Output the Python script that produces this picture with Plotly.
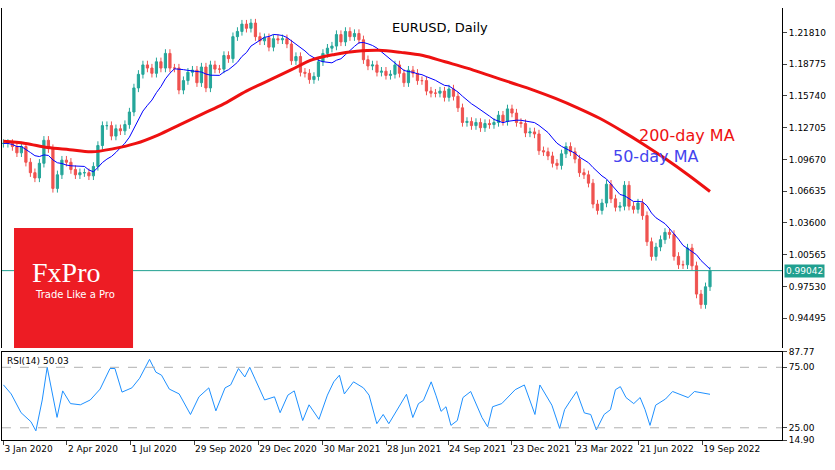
import plotly.graph_objects as go
import pandas as pd
import numpy as np

closes = [1.112,1.112,1.109,1.103,1.109,1.094,1.084,1.079,1.093,1.115,1.107,1.069,1.082,1.096,1.094,1.087,1.082,1.084,1.084,1.081,1.090,1.110,1.129,1.129,1.119,1.126,1.124,1.130,1.142,1.165,1.178,1.187,1.184,1.179,1.190,1.184,1.198,1.184,1.184,1.163,1.172,1.180,1.182,1.170,1.185,1.165,1.187,1.183,1.183,1.196,1.193,1.214,1.219,1.226,1.222,1.227,1.214,1.210,1.213,1.204,1.212,1.211,1.212,1.207,1.191,1.195,1.180,1.179,1.173,1.176,1.190,1.198,1.203,1.205,1.216,1.209,1.219,1.214,1.217,1.211,1.192,1.186,1.187,1.180,1.181,1.177,1.178,1.187,1.179,1.170,1.182,1.179,1.172,1.172,1.162,1.160,1.160,1.162,1.156,1.164,1.157,1.146,1.132,1.133,1.129,1.132,1.127,1.131,1.130,1.132,1.139,1.133,1.145,1.141,1.132,1.131,1.122,1.123,1.121,1.105,1.104,1.100,1.093,1.091,1.102,1.109,1.104,1.097,1.084,1.082,1.074,1.054,1.048,1.055,1.073,1.059,1.051,1.052,1.072,1.052,1.049,1.055,1.043,1.018,1.004,1.013,1.020,1.027,1.025,1.004,0.996,0.996,1.012,0.995,0.968,0.958,0.975,0.990]
start_date, end_date = "2020-01-03", "2022-09-30"
ma200 = [1.114,1.112,1.108,1.106,1.104,1.107,1.112,1.120,1.130,1.140,1.150,1.162,1.172,1.182,1.192,1.197,1.200,1.201,1.199,1.196,1.190,1.184,1.177,1.170,1.163,1.155,1.146,1.136,1.124,1.111,1.097,1.082,1.066]
rsi_bar = [0,7,17,27,32,39,44,50,54,60,67,77,87,97,107,112,120,130,137,147,154,160,167,177,189,197,207,215,224,230,237,244,249,255,264,274,280,287,294,302,309,319,327,334,340,345,354,364,370,377,384,390,397,
           407,414,420,425,432,437,442,447,452,459,465,472,479,484,490,495,504,510,517,526,532,537,542,549,555,562,567,572,580,587,594,600,607,614,619,624,630,637,644,649,654,660,670,676,692,699,715]
rsi_val = [60.5,53,37.5,30,22.5,48,75,53,33.6,55.5,45,44,48,57,74,74,54.5,58,66,81.6,71,68.5,57,53,36,50.6,58,39,58,60.5,74,67,75,64.7,48,50.6,37.5,52,55.5,31,44,32,52,63,68.5,53,63,58,52,28.4,36,28.4,39,
           52.7,33.5,45,47.6,63,51.4,38.6,42.4,27,31,50,55,43.7,33.5,25.8,42.4,45,50,56.5,60.4,47.6,36,60.4,51.4,43.7,24.5,40,46.3,55,37.3,36,23.2,36,40,56.5,59,50,45,50,40,27,43.7,48.8,55,50,55,52.7]
price_ticks = [0.94495,0.97530,1.00565,1.03600,1.06635,1.09670,1.12705,1.15740,1.18775,1.21810]
date_ticks = ["2020-01-03","2020-04-02","2020-07-01","2020-09-29","2020-12-29","2021-03-30","2021-06-28","2021-09-24","2021-12-23","2022-03-23","2022-06-21","2022-09-19"]
date_labels = ["3 Jan 2020","2 Apr 2020","1 Jul 2020","29 Sep 2020","29 Dec 2020","30 Mar 2021","28 Jun 2021","24 Sep 2021","23 Dec 2021","23 Mar 2022","21 Jun 2022","19 Sep 2022"]
last_price = 0.99042
rsi_label = "RSI(14) 50.03"

dates = pd.date_range(start_date, end_date, periods=len(closes))
ma200_dates = pd.date_range(start_date, end_date, periods=len(ma200))
bdays = pd.bdate_range(start_date, periods=720)
rsi_dates = bdays[rsi_bar]

c = pd.Series(closes)
o = c.shift(1).fillna(c.iloc[0])
hi = np.maximum(o, c) + 0.004
lo = np.minimum(o, c) - 0.004
ma50 = c.rolling(10, min_periods=1).mean()

fig = go.Figure()
fig.add_trace(go.Candlestick(x=dates, open=o, high=hi, low=lo, close=c,
    increasing=dict(line=dict(color="#26a69a", width=1), fillcolor="#26a69a"),
    decreasing=dict(line=dict(color="#ef5350", width=1), fillcolor="#ef5350"),
    whiskerwidth=0, showlegend=False))
fig.add_trace(go.Scatter(x=dates, y=ma50, mode="lines", line=dict(color="#0000ff", width=1), showlegend=False))
fig.add_trace(go.Scatter(x=ma200_dates, y=ma200, mode="lines", line=dict(color="#ee1111", width=3, shape="spline"), showlegend=False))
fig.add_trace(go.Scatter(x=rsi_dates, y=rsi_val, mode="lines", line=dict(color="#1e90ff", width=1), yaxis="y2", showlegend=False))

xr = [pd.Timestamp("2020-01-01"), pd.Timestamp("2023-01-10")]
fig.update_layout(
    width=835, height=470, margin=dict(l=2, r=53, t=8, b=30, autoexpand=False),
    paper_bgcolor="white", plot_bgcolor="white",
    font=dict(family="DejaVu Sans", size=9, color="black"),
    xaxis=dict(range=xr, rangeslider=dict(visible=False), tickvals=date_ticks, ticktext=date_labels, tickangle=0,
               ticklabelposition="outside right", showgrid=False, ticks="outside", ticklen=4,
               showline=True, linecolor="black", mirror=True, anchor="y2"),
    yaxis=dict(domain=[0.213, 1], range=[0.9165, 1.2414], side="right", tickvals=price_ticks,
               tickformat=".5f", showgrid=False, ticks="outside", ticklen=4, showline=True, linecolor="black", mirror=True),
    yaxis2=dict(domain=[0, 0.204], range=[14.9, 87.77], side="right", tickvals=[14.9, 25, 75, 87.77],
                ticktext=["14.90", "25.00", "75.00", "87.77"], showgrid=False, ticks="outside", ticklen=4,
                showline=True, linecolor="black", mirror=True, zeroline=False),
)
fig.add_shape(type="line", xref="paper", x0=0, x1=1, yref="y", y0=last_price, y1=last_price, line=dict(color="#20a090", width=1))
for v in [25, 75]:
    fig.add_shape(type="line", xref="paper", x0=0, x1=1, yref="y2", y0=v, y1=v, line=dict(color="#b0b0b0", width=1, dash="dash"))
fig.add_annotation(xref="paper", x=1.0, xanchor="left", yref="y", y=last_price, text=f"{last_price:.5f}",
                   showarrow=False, bgcolor="#20a090", font=dict(color="white", size=9), borderpad=1, xshift=2)
fig.add_annotation(xref="paper", x=0.497, xanchor="left", y=0.977, yref="paper", text="EURUSD, Daily", showarrow=False, font=dict(size=13))
fig.add_annotation(xref="paper", yref="paper", x=0.814, xanchor="left", y=0.731, text="200-day MA", showarrow=False, font=dict(size=16, color="#ee1111"))
fig.add_annotation(xref="paper", yref="paper", x=0.781, xanchor="left", y=0.657, text="50-day MA", showarrow=False, font=dict(size=16, color="#4444ee"))
fig.add_annotation(xref="paper", yref="paper", x=0.004, y=0.2, text=rsi_label, showarrow=False, xanchor="left", yanchor="top", font=dict(size=9))
fig.add_shape(type="rect", xref="paper", yref="paper", x0=0.0154, x1=0.168, y0=0.213, y1=0.491, fillcolor="#ed1c24", line=dict(width=0), layer="above")
fig.add_annotation(xref="paper", yref="paper", x=0.036, xanchor="left", y=0.387, text="FxPro", showarrow=False, font=dict(family="Liberation Serif", size=28, color="white"))
fig.add_annotation(xref="paper", yref="paper", x=0.040, xanchor="left", y=0.319, text="Trade Like a Pro", showarrow=False, font=dict(family="DejaVu Sans", size=10, color="white"))
fig.write_html("out.html", config={"displayModeBar": False}, post_script="document.body.style.margin='0px';")
